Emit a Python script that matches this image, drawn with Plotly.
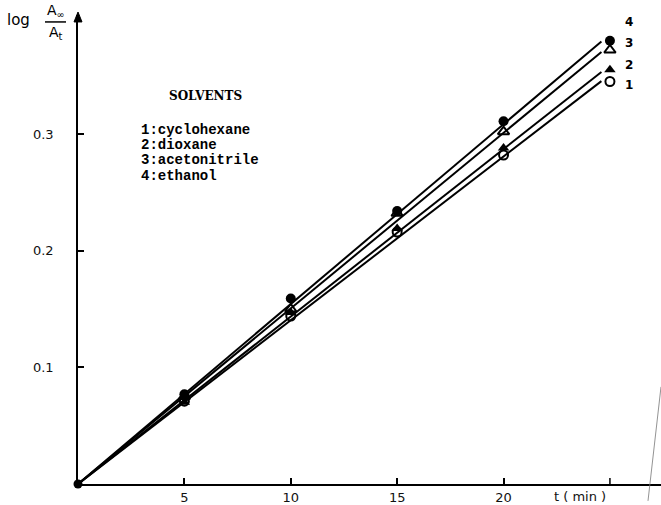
import numpy as np
import plotly.graph_objects as go

# Data
t = [0, 5, 10, 15, 20, 25]
series_names = ["1:cyclohexane", "2:dioxane", "3:acetonitrile", "4:ethanol"]
s1 = [0, 0.071, 0.144, 0.216, 0.282, 0.345]   # open circle
s2 = [0, 0.070, 0.147, 0.219, 0.288, 0.355]   # filled triangle
s3 = [0, 0.075, 0.150, 0.232, 0.302, 0.372]   # open triangle
s4 = [0, 0.077, 0.159, 0.234, 0.311, 0.380]   # filled circle
series_numbers = ["1", "2", "3", "4"]
x_tick_vals = [5, 10, 15, 20]
x_tick_text = ["5", "10", "15", "20"]
y_tick_vals = [0.1, 0.2, 0.3]
y_tick_text = ["0.1", "0.2", "0.3"]

all_series = [s1, s2, s3, s4]
styles = [
    dict(symbol="circle-open", size=9, line=dict(width=2, color="black"), color="black"),
    dict(symbol="triangle-up", size=10, color="black", line=dict(width=0)),
    dict(symbol="triangle-up-open", size=10, line=dict(width=2, color="black"), color="black"),
    dict(symbol="circle", size=10, color="black", line=dict(width=0)),
]

fig = go.Figure()

x_arr = np.array(t, dtype=float)
for ys in all_series:
    y_arr = np.array(ys, dtype=float)
    slope = float((x_arr * y_arr).sum() / (x_arr * x_arr).sum())
    xl = [0, t[-1] - 0.4]
    fig.add_trace(go.Scatter(x=xl, y=[slope * v for v in xl], mode="lines",
                             line=dict(color="black", width=2), showlegend=False,
                             hoverinfo="skip"))

for ys, st in zip(all_series, styles):
    fig.add_trace(go.Scatter(x=t[1:], y=ys[1:], mode="markers", marker=st,
                             showlegend=False))

# origin dot
fig.add_trace(go.Scatter(x=[0], y=[0], mode="markers",
                         marker=dict(symbol="circle", size=9, color="black"),
                         showlegend=False, cliponaxis=False))

font_tick = dict(family="DejaVu Sans", size=13, color="#111")

PW, PH, L, T = 583, 473, 78, 15


def px(x):
    return (x - L) / PW


def py(y):
    return (T + PH - y) / PH


fig.update_layout(
    width=661, height=505,
    margin=dict(l=L, r=0, t=T, b=17),
    paper_bgcolor="white", plot_bgcolor="white",
    xaxis=dict(range=[0, 27.4], tickvals=x_tick_vals, ticktext=x_tick_text,
               ticks="inside", ticklen=6, tickwidth=1.5, tickcolor="black",
               showline=True, linecolor="black", linewidth=2, showgrid=False,
               zeroline=False, tickfont=font_tick),
    yaxis=dict(range=[0, 0.402], tickvals=y_tick_vals, ticktext=y_tick_text,
               ticks="inside", ticklen=6, tickwidth=1.5, tickcolor="black",
               showline=True, linecolor="black", linewidth=1.5, showgrid=False,
               zeroline=False, tickfont=font_tick, ticklabelstandoff=20),
)

# unlabeled tick at t = 25
fig.add_shape(type="line", xref="x", yref="paper", x0=t[-1], x1=t[-1], y0=0, y1=6 / PH,
              line=dict(color="black", width=1.5))

# y-axis arrow head
fig.add_shape(type="path", xref="paper", yref="paper",
              path=f"M {px(74)} {py(22)} L {px(78)} {py(12)} L {px(82)} {py(22)} Z",
              fillcolor="black", line=dict(color="black", width=1))

# "0" and axis titles
fig.add_annotation(x=-0.75, y=0, xref="x", yref="y", text="0", showarrow=False,
                   yanchor="top", yshift=-4, font=font_tick)
fig.add_annotation(x=23.6, y=0, xref="x", yref="y", text="t ( min )", showarrow=False,
                   yanchor="top", yshift=-3, font=font_tick)

# y-axis label: log A∞ / At
fig.add_annotation(xref="paper", yref="paper", x=px(18), y=py(20),
                   text="log", showarrow=False, font=dict(family="DejaVu Sans", size=15, color="black"),
                   xanchor="center", yanchor="middle")
fig.add_annotation(xref="paper", yref="paper", x=px(56), y=py(11),
                   text="A<sub>∞</sub>", showarrow=False,
                   font=dict(family="DejaVu Sans", size=14, color="black"),
                   xanchor="center", yanchor="middle")
fig.add_annotation(xref="paper", yref="paper", x=px(56), y=py(33),
                   text="A<sub>t</sub>", showarrow=False,
                   font=dict(family="DejaVu Sans", size=14, color="black"),
                   xanchor="center", yanchor="middle")
fig.add_shape(type="line", xref="paper", yref="paper",
              x0=px(45), x1=px(66), y0=py(22), y1=py(22),
              line=dict(color="black", width=1.5))

# Legend block
fig.add_annotation(xref="paper", yref="paper", x=px(167), y=py(97),
                   text="<b>SOLVENTS</b>", showarrow=False, xanchor="left", yanchor="middle",
                   font=dict(family="DejaVu Serif", size=12, color="black"))
for i, name in enumerate(series_names):
    fig.add_annotation(xref="paper", yref="paper", x=px(139),
                       y=py(131 + 15.3 * i),
                       text="<b>" + name + "</b>", showarrow=False,
                       xanchor="left", yanchor="middle",
                       font=dict(family="Liberation Mono", size=14, color="black"))

# Series numbers at the right
num_y = [s1[-1] - 0.003, s2[-1] + 0.004, s3[-1] + 0.006, s4[-1] + 0.016]
for lab, yy in zip(series_numbers, num_y):
    fig.add_annotation(x=25.9, y=yy, xref="x", yref="y", text="<b>" + lab + "</b>",
                       showarrow=False, font=dict(family="DejaVu Sans", size=12, color="black"))

# thin stray stroke at right edge
fig.add_shape(type="line", xref="paper", yref="paper", x0=px(648), x1=px(661),
              y0=py(505), y1=py(390), line=dict(color="#777", width=0.8))

fig.write_html("out.html")
